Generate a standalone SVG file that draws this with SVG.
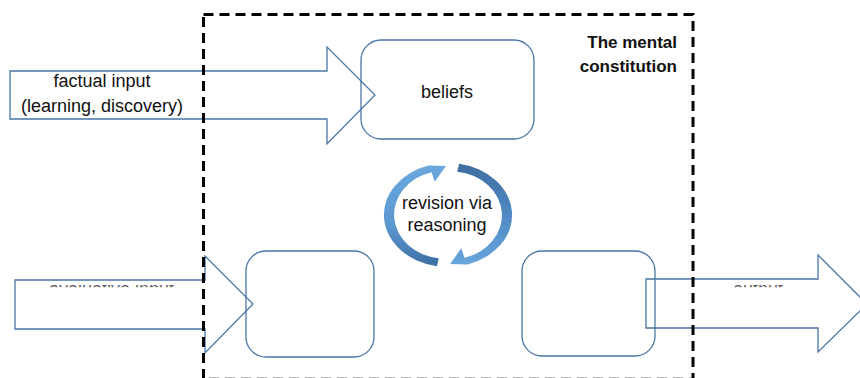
<svg xmlns="http://www.w3.org/2000/svg" width="860" height="378" viewBox="0 0 860 378">
<style>
.shape{fill:none;stroke:#4a76a8;stroke-width:1.3;stroke-linejoin:miter}
.box{fill:none;stroke:#4a76a8;stroke-width:1.3}
.txt{font-family:"Liberation Sans",Arial,sans-serif;font-size:18px;fill:#111;text-anchor:middle}
.title{font-family:"Liberation Sans",Arial,sans-serif;font-size:17px;font-weight:bold;fill:#111;text-anchor:end}
.frame{fill:none;stroke:#000;stroke-width:3;stroke-dasharray:10 6}
</style>
<defs>
<linearGradient id="gL" x1="0" y1="0" x2="0" y2="1">
<stop offset="0" stop-color="#6aa8de"/>
<stop offset="0.6" stop-color="#5b97cf"/>
<stop offset="1" stop-color="#3c6fa3"/>
</linearGradient>
<linearGradient id="gR" x1="0" y1="0" x2="0" y2="1">
<stop offset="0" stop-color="#3e6e9f"/>
<stop offset="0.5" stop-color="#4f88c2"/>
<stop offset="1" stop-color="#68a6dd"/>
</linearGradient>
<clipPath id="clipEval"><rect x="0" y="285" width="240" height="2.2"/></clipPath>
<clipPath id="clipOut"><rect x="650" y="285" width="160" height="2.2"/></clipPath>
</defs>
<g id="connectors">
<g id="factual-input">
<path class="shape" d="M10,71 H327 V47 L375,95 L327,144 V119 H10 Z"/>
<text class="txt" x="102" y="87">factual input</text>
<text class="txt" x="102" y="112">(learning, discovery)</text>
</g>
<g id="evaluative-input">
<path class="shape" d="M15,280 H205 V256 L253,304 L205,353 V329 H15 Z"/>
<text class="txt" x="111.5" y="294.5" clip-path="url(#clipEval)" fill-opacity="0.7">evaluative input</text>
</g>
<g id="output">
<path class="shape" d="M646,279 H818 V255 L867,304 L818,352 V328 H646 Z"/>
<text class="txt" x="758" y="294.5" clip-path="url(#clipOut)" fill-opacity="0.7">output</text>
</g>
</g>
<g id="beliefs">
<rect class="box" x="361" y="40" width="173" height="99" rx="20" ry="20"/>
<text class="txt" x="447" y="98">beliefs</text>
</g>
<g id="box-left">
<rect class="box" x="246" y="251" width="128" height="106" rx="20" ry="20"/>
</g>
<g id="box-right">
<rect class="box" x="522" y="251" width="133" height="105" rx="20" ry="20"/>
</g>
<g id="revision">
<path fill="url(#gL)" d="M436.9,266.2 A64,52 0 0 1 428.2,165.5 L445.9,166 L434.7,181.7 L431.6,172.2 A51,44 0 0 0 438.8,258.3 Z"/>
<path fill="url(#gR)" d="M459.1,163.8 A64,52 0 0 1 467.8,264.5 L450.1,264 L461.3,248.3 L464.4,257.8 A51,44 0 0 0 457.2,171.7 Z"/>
<text class="txt" x="447" y="209">revision via</text>
<text class="txt" x="447" y="231">reasoning</text>
</g>
<g id="mental-constitution">
<rect class="frame" x="203.5" y="14.5" width="489.5" height="364.7"/>
<text class="title" x="677" y="48">The mental</text>
<text class="title" x="677" y="72">constitution</text>
</g>
</svg>
